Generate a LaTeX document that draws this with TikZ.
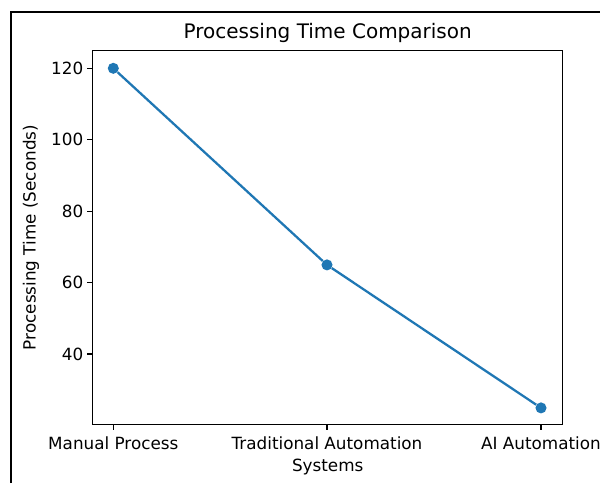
\documentclass[tikz,border=0pt]{standalone}
\usepackage{fontspec}
\setmainfont{DejaVu Sans}
\definecolor{mplblue}{HTML}{1F77B4}
\begin{document}
\begin{tikzpicture}[x=0.75pt,y=-0.75pt,
  lbl/.style={font=\fontsize{12.6}{14}\selectfont, inner sep=0pt},
  pt/.style={circle, fill=mplblue, inner sep=0pt, minimum size=8.3pt}]
  \path[fill=white] (0,0) rectangle (600,483);
  \useasboundingbox (0,0) rectangle (600,483);
  \path[draw,line width=2pt] (11,483) -- (11,12) -- (600,12);

  \node[font=\fontsize{15}{17}\selectfont, inner sep=0pt] (title) at (327.7,33) {Processing Time Comparison};
  \path[draw,line width=0.9pt] (92.7,50.7) rectangle (562.7,424.3);

  \coordinate (t40) at (92.7,354);
  \coordinate (t60) at (92.7,282.7);
  \coordinate (t80) at (92.7,211.2);
  \coordinate (t100) at (92.7,139.7);
  \coordinate (t120) at (92.7,68.3);
  \node[lbl, anchor=east] (l40) at (83.5,354) {40};
  \node[lbl, anchor=east] (l60) at (83.5,282.7) {60};
  \node[lbl, anchor=east] (l80) at (83.5,211.2) {80};
  \node[lbl, anchor=east] (l100) at (83.5,139.7) {100};
  \node[lbl, anchor=east] (l120) at (83.5,68.3) {120};
  \path[draw,line width=0.9pt] (t40) -- ++(-5.5,0);
  \path[draw,line width=0.9pt] (t60) -- ++(-5.5,0);
  \path[draw,line width=0.9pt] (t80) -- ++(-5.5,0);
  \path[draw,line width=0.9pt] (t100) -- ++(-5.5,0);
  \path[draw,line width=0.9pt] (t120) -- ++(-5.5,0);

  \coordinate (tm) at (113.3,424.3);
  \coordinate (tt) at (327,424.3);
  \coordinate (ta) at (541,424.3);
  \node[lbl, anchor=north] (lm) at (113.3,436) {Manual Process};
  \node[lbl, anchor=north] (lt) at (327,436) {Traditional Automation};
  \node[lbl, anchor=north] (la) at (541,436) {AI Automation};
  \path[draw,line width=0.9pt] (tm) -- ++(0,5.5);
  \path[draw,line width=0.9pt] (tt) -- ++(0,5.5);
  \path[draw,line width=0.9pt] (ta) -- ++(0,5.5);

  \node[lbl] (xlab) at (327.7,467) {Systems};
  \node[lbl, rotate=90] (ylab) at (31,237.5) {Processing Time (Seconds)};

  \node[pt] (manual) at (113.3,68.3) {};
  \node[pt] (trad) at (327,264.9) {};
  \node[pt] (ai) at (541,407.9) {};
  \path[draw=mplblue,line width=1.7pt] (manual) -- (trad);
  \path[draw=mplblue,line width=1.7pt] (trad) -- (ai);
\end{tikzpicture}
\end{document}
